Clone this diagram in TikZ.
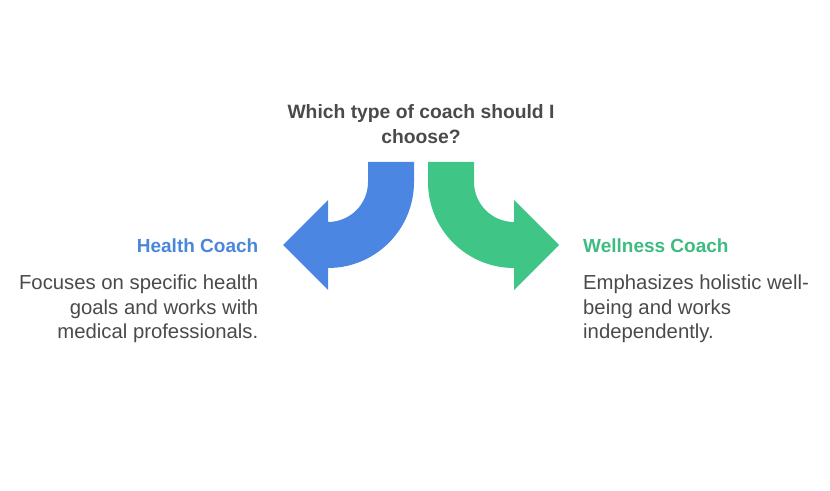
\documentclass[tikz,border=0pt]{standalone}
\usepackage{fontspec}
\setmainfont{Liberation Sans}
\usepackage{xcolor}
\usetikzlibrary{positioning, calc}

\definecolor{healthblue}{HTML}{4A86E2}
\definecolor{wellgreen}{HTML}{3FC585}
\definecolor{headblue}{HTML}{4A86DA}
\definecolor{headgreen}{HTML}{3DBB80}
\definecolor{textgray}{HTML}{4A4A4A}

\begin{document}
\begin{tikzpicture}[
    x=1pt, y=1pt,
    question/.style={
        align=center, 
        inner sep=0pt, 
        text=textgray, 
        font=\bfseries\fontsize{19.3}{25}\selectfont
    },
    heading/.style={
        inner sep=0pt, 
        font=\bfseries\fontsize{19}{24}\selectfont
    },
    desc/.style={
        inner sep=0pt, 
        text=textgray, 
        font=\fontsize{20.3}{24.5}\selectfont
    },
    bentarrow/.style={
        draw=none
    }
]
    \useasboundingbox (0,0) rectangle (830,490);

    % =========================================================
    % QUESTION AT THE TOP
    % =========================================================
    \node [question, anchor=base] (question) at (421,346) {Which type of coach should I\\ choose?};

    % =========================================================
    % TWO BENT ARROWS (MIRRORED ABOUT x=421)
    % =========================================================
    \fill [bentarrow, healthblue] (368,328) -- (414,328) -- (414,308)
        arc[start angle=0, end angle=-90, radius=86] -- (328,200) -- (283,245)
        -- (328,290) -- (328,268) arc[start angle=-90, end angle=0, radius=40] -- cycle;
    \coordinate (lefttip) at (283,245);

    \fill [bentarrow, wellgreen] (474,328) -- (428,328) -- (428,308)
        arc[start angle=180, end angle=270, radius=86] -- (514,200) -- (559,245)
        -- (514,290) -- (514,268) arc[start angle=270, end angle=180, radius=40] -- cycle;
    \coordinate (righttip) at (559,245);

    % =========================================================
    % LEFT OPTION: HEALTH COACH
    % =========================================================
    \node [heading, text=headblue, anchor=base east] (health) at (258.5,237) {Health Coach};
    \node [desc, align=right, anchor=north east] (healthdesc) at (258.5,215)
        {Focuses on specific health\\ goals and works with\\ medical professionals.};

    % =========================================================
    % RIGHT OPTION: WELLNESS COACH
    % =========================================================
    \node [heading, text=headgreen, anchor=base west] (wellness) at (583,237) {Wellness Coach};
    \node [desc, align=left, anchor=north west] (wellnessdesc) at (583,215)
        {Emphasizes holistic well-\\ being and works\\ independently.};

\end{tikzpicture}
\end{document}
